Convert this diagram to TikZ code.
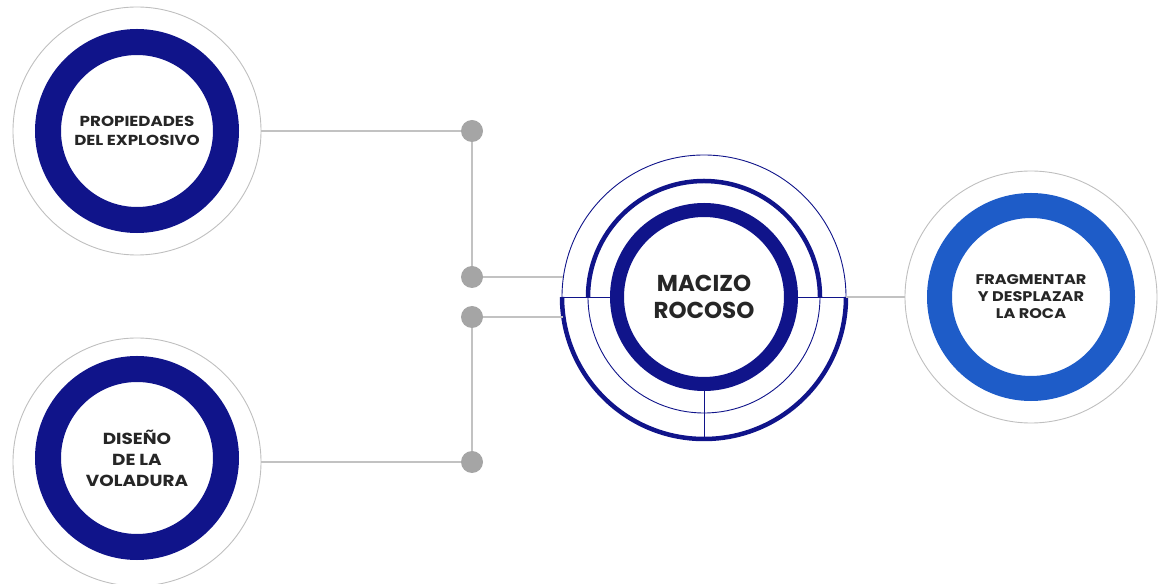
\documentclass[tikz,border=0pt]{standalone}
\usepackage{fontspec}
\setmainfont{Poppins}
\newfontfamily\widefont{Poppins}[FakeStretch=1.15]
\usetikzlibrary{calc}

\definecolor{navy}{HTML}{10148A}
\definecolor{royal}{HTML}{1E5CC8}
\definecolor{wiregray}{HTML}{C2C2C2}
\definecolor{dotgray}{HTML}{A5A5A5}

\tikzset{
  halo/.style={circle, draw=gray!50, line width=0.9pt, minimum size=#1, inner sep=0pt, outer sep=0pt},
  ring/.style={circle, draw=#1, line width=26pt, minimum size=178pt, inner sep=0pt,
    align=center, text=black!85, font=\widefont\bfseries\fontsize{14.5}{19}\selectfont},
  wire/.style={wiregray, line width=2.4pt},
  junction/.style={circle, fill=dotgray, minimum size=22pt, inner sep=0pt, outer sep=0pt}
}

\begin{document}
\begin{tikzpicture}[x=1pt, y=1pt]
  \useasboundingbox (0,0) rectangle (1163,584);

  % outer circles
  \node[halo=248pt] (prop) at (137,453) {};
  \node[halo=248pt] (dis) at (137,122) {};
  \node[halo=252pt] (frag) at (1031,287) {};
  \node[circle, minimum size=284pt, inner sep=0pt, outer sep=0pt] (mac) at (704,287) {};

  \node[ring=navy] at (prop) {PROPIEDADES\\DEL EXPLOSIVO};
  \node[ring=navy, font=\widefont\bfseries\fontsize{16}{21}\selectfont] at ($(dis)+(0,4)$) {DISEÑO\\DE LA\\VOLADURA};
  \node[ring=royal, line width=25pt, minimum size=183pt, font=\widefont\bfseries\fontsize{14}{17}\selectfont] at (frag) {FRAGMENTAR\\Y DESPLAZAR\\LA ROCA};
  \node[ring=navy, line width=14pt, minimum size=174pt, font=\bfseries\fontsize{23}{27}\selectfont] at (mac) {MACIZO\\ROCOSO};

  % rings round the rock mass
  \draw[navy, line width=0.9pt] (mac.center) ++(0:142) arc[start angle=0, end angle=180, radius=142];
  \draw[navy, line width=4.5pt] (mac.center) ++(180:142) arc[start angle=180, end angle=360, radius=142];
  \draw[navy, line width=4.5pt] (mac.center) ++(0:116) arc[start angle=0, end angle=180, radius=116];
  \draw[navy, line width=0.9pt] (mac.center) ++(180:116) arc[start angle=180, end angle=360, radius=116];
  \draw[navy, line width=0.9pt] (mac.center) ++(180:142) -- ++(48,0);
  \draw[navy, line width=0.9pt] (mac.center) ++(94,0) -- ++(48,0);
  \draw[navy, line width=0.9pt] (mac.center) ++(0,-94) -- ++(0,-48);

  % junctions
  \node[junction] (j1) at (472,453) {};
  \node[junction] (j2) at (472,307) {};
  \node[junction] (j3) at (472,267) {};
  \node[junction] (j4) at (472,122) {};

  \draw[wire] (prop) -- (j1);
  \draw[wire] (dis) -- (j4);
  \draw[wire] (j1) -- (j2);
  \draw[wire] (j3) -- (j4);
  \draw[wire] (j2) -- (j2 -| mac.172);
  \draw[wire] (j3) -- (j3 -| mac.188);
  \draw[wire, line width=1.8pt] (mac.east) -- (frag);
\end{tikzpicture}
\end{document}
